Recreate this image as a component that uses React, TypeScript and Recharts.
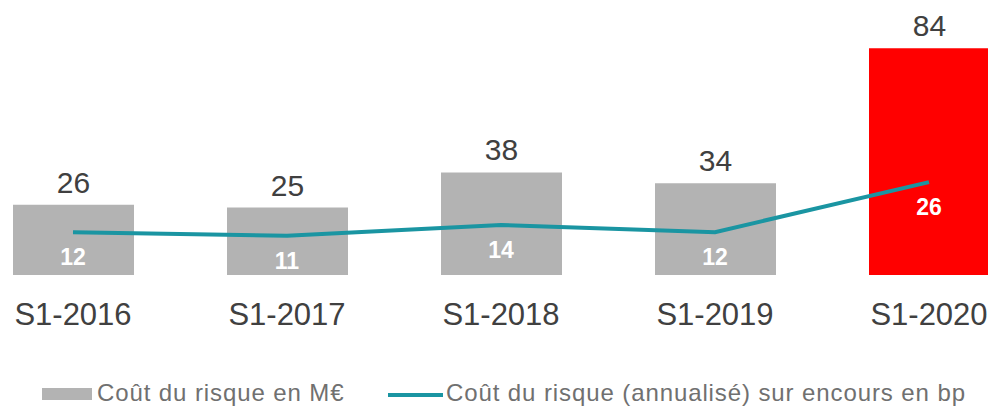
import { ComposedChart, Bar, Line, XAxis, YAxis, LabelList, Cell } from 'recharts';

const periods = ['S1-2016', 'S1-2017', 'S1-2018', 'S1-2019', 'S1-2020'];
const costMEur = [26, 25, 38, 34, 84];
const costBp = [12, 11, 14, 12, 26];

const data = periods.map((period, i) => ({ period, cost: costMEur[i], bp: costBp[i] }));

const FONT = '"Liberation Sans", Arial, sans-serif';
const GREY = '#b3b3b3';
const RED = '#ff0000';
const TEAL = '#1a95a2';
const TEXT = '#404040';
const LEGEND_TEXT = '#707070';
const HIGHLIGHT = periods.length - 1;

const PeriodTick = (props: any) => {
    const { x, y, payload } = props;
    return (
        <text x={x} y={y + 42} textAnchor="middle" fill={TEXT} fontSize={31} fontFamily={FONT}>
            {payload.value}
        </text>
    );
};

// white bold value under each point of the line
const BpLabel = (props: any) => {
    const { x, y, value } = props;
    return (
        <text
            x={x}
            y={y + 33}
            textAnchor="middle"
            fill="#ffffff"
            fontSize={23}
            fontWeight="bold"
            fontFamily={FONT}
        >
            {value}
        </text>
    );
};

export default function App() {
    return (
        <div
            style={{
                position: 'fixed',
                left: 0,
                top: 0,
                width: 988,
                height: 407,
                overflow: 'hidden',
                background: '#fff',
                fontFamily: FONT,
            }}
        >
            <div style={{ position: 'absolute', left: -34, top: 0 }}>
                <ComposedChart
                    width={1070}
                    height={407}
                    data={data}
                    margin={{ top: 5, right: 0, left: 0, bottom: 72 }}
                >
                    <XAxis
                        dataKey="period"
                        axisLine={false}
                        tickLine={false}
                        interval={0}
                        height={60}
                        tick={<PeriodTick />}
                    />
                    <YAxis yAxisId="left" hide domain={[0, 100]} />
                    <YAxis yAxisId="right" orientation="right" hide domain={[0, 75.6]} />
                    <Bar yAxisId="left" dataKey="cost" barSize={121} isAnimationActive={false}>
                        {data.map((_, i) => (
                            <Cell key={i} fill={i === HIGHLIGHT ? RED : GREY} />
                        ))}
                        <LabelList
                            dataKey="cost"
                            position="top"
                            offset={12}
                            fill={TEXT}
                            fontSize={30}
                            fontFamily={FONT}
                        />
                    </Bar>
                    <Line
                        yAxisId="right"
                        dataKey="bp"
                        type="linear"
                        stroke={TEAL}
                        strokeWidth={4}
                        dot={false}
                        activeDot={false}
                        isAnimationActive={false}
                    >
                        <LabelList dataKey="bp" content={<BpLabel />} />
                    </Line>
                </ComposedChart>
            </div>

            <div style={{ position: 'absolute', left: 42, top: 388, width: 50, height: 12, background: GREY }} />
            <span
                style={{
                    position: 'absolute',
                    left: 97,
                    top: 381,
                    fontSize: 24,
                    lineHeight: '24px',
                    letterSpacing: 0.9,
                    color: LEGEND_TEXT,
                    whiteSpace: 'nowrap',
                }}
            >
                Coût du risque en M€
            </span>
            <div style={{ position: 'absolute', left: 388, top: 393, width: 55, height: 4, background: TEAL }} />
            <span
                style={{
                    position: 'absolute',
                    left: 446,
                    top: 381,
                    fontSize: 24,
                    lineHeight: '24px',
                    letterSpacing: 0.9,
                    color: LEGEND_TEXT,
                    whiteSpace: 'nowrap',
                }}
            >
                Coût du risque (annualisé) sur encours en bp
            </span>
        </div>
    );
}
